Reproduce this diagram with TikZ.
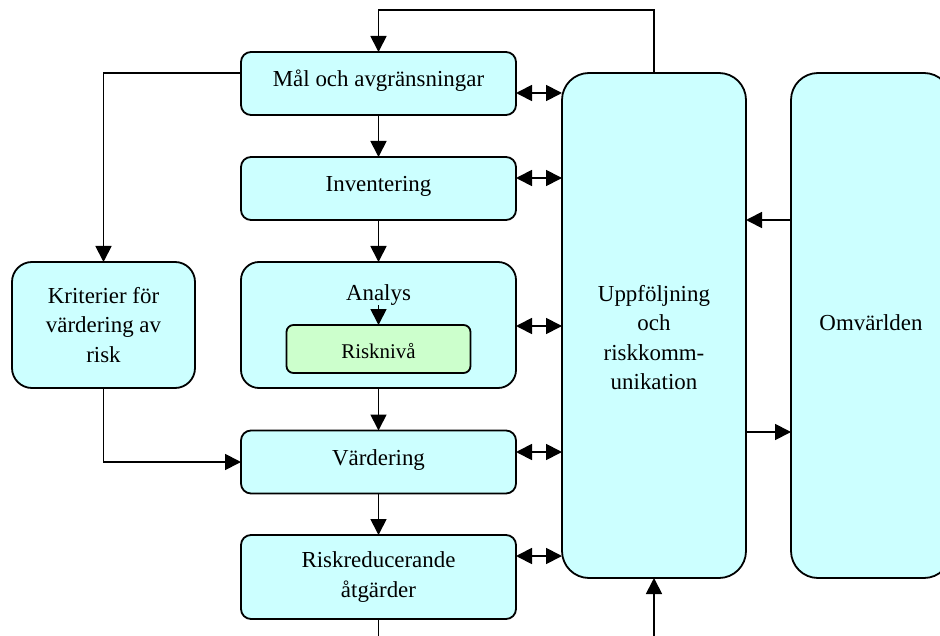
\documentclass[tikz,border=0pt]{standalone}
\usepackage{fontspec}
\setmainfont{Liberation Serif}
\usetikzlibrary{arrows.meta}
\definecolor{boxfill}{HTML}{CCFFFF}
\definecolor{greenfill}{HTML}{CCFFCC}
\begin{document}
\begin{tikzpicture}[x=1bp,y=-1bp,
  box/.style={draw=black, line width=1.8bp, fill=boxfill, inner sep=0pt, outer sep=0pt,
    align=center, font=\fontsize{23}{30}\selectfont},
  single/.style={text height=16bp, text depth=9bp},
  arr/.style={line width=1.8bp, -{Triangle[length=16bp,width=16bp]}},
  dbl/.style={line width=1.8bp, {Triangle[length=16bp,width=16bp]}-{Triangle[length=16bp,width=16bp]}}
]
\useasboundingbox (0,0) rectangle (940,636);

% boxes
\node[box, single, rounded corners=10bp, minimum width=275bp, minimum height=63bp] (mal) at (378.5,83.5) {Mål och avgränsningar};
\node[box, single, rounded corners=10bp, minimum width=275bp, minimum height=63bp] (inv) at (378.5,188.5) {Inventering};
\node[box, rounded corners=18bp, minimum width=275bp, minimum height=126bp] (ana) at (378.5,325) {};
\node[anchor=base, inner sep=0pt, font=\fontsize{23}{30}\selectfont] (anatext) at (378.5,300) {Analys};
\node[box, fill=greenfill, rounded corners=7bp, minimum width=184bp, minimum height=48bp,
  font=\fontsize{21}{26}\selectfont, text height=19bp, text depth=1bp] (ris) at (378.5,349) {Risknivå};
\node[box, single, rounded corners=10bp, minimum width=275bp, minimum height=63bp] (var) at (378.5,462) {Värdering};
\node[box, rounded corners=10bp, minimum width=275bp, minimum height=84bp] (rr) at (378.5,577) {Riskreducerande\\åtgärder};
\node[box, rounded corners=20bp, minimum width=183bp, minimum height=126bp] (krit) at (103.5,325) {Kriterier för\\värdering av\\risk};
\node[box, rounded corners=27bp, minimum width=184bp, minimum height=505bp] (uppf) at (654,325.5) {};
\node[inner sep=0pt, align=center, font=\fontsize{23}{29.7}\selectfont] (uppftext) at (654,337.5) {Uppföljning\\och\\riskkomm-\\unikation};
\node[box, rounded corners=27bp, minimum width=160bp, minimum height=505bp] (omv) at (871,325.5) {};
\node[anchor=base, inner sep=0pt, font=\fontsize{23}{30}\selectfont] (omvtext) at (871,330) {Omvärlden};

% helper coordinates
\coordinate (ytop) at (0,10);
\coordinate (y73) at (0,73);
\coordinate (y93) at (0,93);
\coordinate (y178) at (0,178);
\coordinate (y326) at (0,326);
\coordinate (y452) at (0,452);
\coordinate (y556) at (0,556);
\coordinate (y220) at (0,220);
\coordinate (y432) at (0,432);
\coordinate (ybot) at (0,660);

% main flow
\draw[arr] (mal) -- (inv);
\draw[arr] (inv) -- (ana);
\draw[arr] (anatext.south) -- (ris.north);
\draw[arr] (ana) -- (var);
\draw[arr] (var) -- (rr);

% loops
\draw[arr] (uppf.north) -- (uppf.north |- ytop) -| (mal.north);
\draw[arr] (mal.west |- y73) -| (krit.north);
\draw[arr] (krit.south) |- (var.west);
\draw[arr] (rr.south) -- (rr.south |- ybot) -| (uppf.south);

% double arrows
\draw[dbl] (mal.east |- y93) -- (uppf.west |- y93);
\draw[dbl] (inv.east |- y178) -- (uppf.west |- y178);
\draw[dbl] (ana.east |- y326) -- (uppf.west |- y326);
\draw[dbl] (var.east |- y452) -- (uppf.west |- y452);
\draw[dbl] (rr.east |- y556) -- (uppf.west |- y556);

% outside world
\draw[arr] (omv.west |- y220) -- (uppf.east |- y220);
\draw[arr] (uppf.east |- y432) -- (omv.west |- y432);
\end{tikzpicture}
\end{document}
